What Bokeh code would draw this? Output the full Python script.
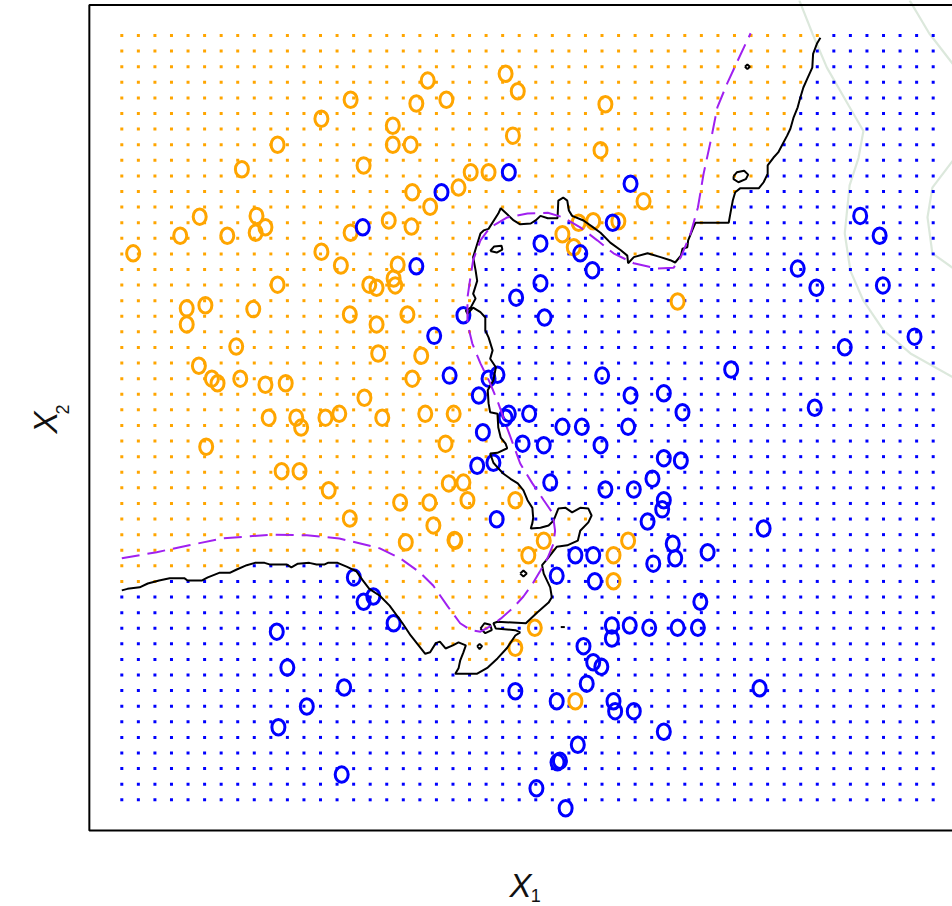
import numpy as np
from bokeh.plotting import figure
from bokeh.models import Range1d
from bokeh.embed import file_html
from bokeh.resources import INLINE
from bokeh.core.properties import value

# ---- training observations (class "orange" and class "blue") ----
orange_x1 = [3.77, 4.73, 4.88, 2.82, 3.63, 4.00, 5.96, 2.46, 3.34, 4.82,
             1.92, 3.34, 3.56, 5.90, 1.48, 2.98, 4.30, 4.52, 4.15, 3.58,
             3.80, 6.43, 0.96, 1.66, 0.72, 1.30, 1.65, 1.77, 2.82, 3.29,
             3.57, 0.14, 2.46, 2.70, 5.43, 5.57, 5.63, 5.81, 6.12, 3.40,
             3.35, 1.92, 3.05, 3.14, 3.37, 0.80, 1.03, 1.62, 0.80, 2.81,
             3.14, 3.52, 1.41, 3.16, 3.69, 0.95, 1.11, 1.18, 1.46, 1.77,
             2.02, 3.58, 2.99, 1.81, 2.15, 2.21, 2.51, 2.68, 3.21, 3.74,
             4.09, 1.04, 3.99, 1.97, 2.19, 2.55, 2.81, 4.03, 4.21, 3.43,
             3.79, 4.26, 4.85, 3.84, 3.50, 4.11, 4.10, 5.20, 6.24, 5.01,
             6.06, 6.06, 5.09, 4.85, 5.59, 6.85]
orange_x2 = [9.41, 9.50, 9.27, 9.16, 9.11, 9.16, 9.10, 8.91, 8.82, 8.69,
             8.57, 8.57, 8.57, 8.50, 8.25, 8.30, 8.21, 8.21, 8.01, 7.95,
             7.76, 7.83, 7.63, 7.64, 7.38, 7.38, 7.42, 7.49, 7.42, 7.58,
             7.50, 7.15, 7.17, 6.99, 7.40, 7.23, 7.55, 7.57, 7.57, 7.00,
             6.82, 6.74, 6.74, 6.70, 6.73, 6.43, 6.47, 6.42, 6.22, 6.35,
             6.22, 6.35, 5.93, 5.84, 5.81, 5.68, 5.51, 5.45, 5.51, 5.43,
             5.45, 5.51, 5.26, 5.00, 5.00, 4.87, 5.00, 5.05, 5.00, 5.05,
             5.05, 4.62, 4.66, 4.30, 4.30, 4.05, 3.68, 4.14, 4.15, 3.89,
             3.89, 3.92, 3.92, 3.59, 3.37, 3.39, 3.40, 3.39, 3.39, 3.20,
             3.20, 2.86, 2.25, 1.99, 1.29, 6.52]

blue_x1 = [3.94, 4.77, 6.27, 2.97, 3.63, 5.16, 5.65, 6.05, 5.80, 5.16,
           4.86, 5.21, 4.21, 3.85, 8.33, 8.56, 9.38, 9.10, 9.34, 9.77,
           8.91, 7.51, 6.68, 6.91, 8.54, 5.92, 4.04, 4.52, 4.63, 4.40,
           6.27, 4.77, 4.73, 5.02, 5.43, 5.67, 6.24, 4.45, 4.94, 5.20,
           5.90, 4.38, 4.58, 6.68, 6.89, 5.28, 5.96, 6.31, 6.54, 6.68,
           6.66, 6.48, 4.62, 6.79, 7.91, 7.22, 5.59, 5.81, 6.55, 6.82,
           5.36, 5.83, 7.13, 2.86, 2.98, 3.10, 3.35, 1.91, 2.04, 2.74,
           2.28, 1.93, 2.71, 6.04, 6.26, 6.50, 6.85, 7.10, 6.04, 5.69,
           5.81, 5.91, 5.73, 4.85, 5.36, 6.06, 6.08, 6.31, 6.68, 7.86,
           5.62, 5.37, 5.40, 5.11, 5.47]
blue_x2 = [7.95, 8.21, 8.06, 7.49, 6.98, 7.28, 7.15, 7.55, 6.93, 6.76,
           6.57, 6.31, 6.34, 6.07, 6.95, 6.70, 6.73, 7.64, 7.38, 6.06,
           5.92, 5.63, 5.32, 5.07, 5.13, 5.55, 5.55, 5.51, 5.56, 5.29,
           5.29, 5.05, 5.00, 5.05, 4.88, 4.88, 4.88, 4.81, 4.66, 4.64,
           4.64, 4.37, 4.41, 4.47, 4.44, 4.15, 4.06, 4.06, 4.20, 3.92,
           3.80, 3.64, 3.67, 3.35, 3.55, 3.24, 3.20, 3.20, 3.09, 3.16,
           2.93, 2.86, 2.59, 2.91, 2.59, 2.66, 2.31, 2.20, 1.73, 1.47,
           1.22, 0.95, 0.33, 2.28, 2.28, 2.25, 2.25, 2.25, 2.11, 2.01,
           1.80, 1.74, 1.52, 1.42, 1.29, 1.29, 1.16, 1.16, 0.89, 1.46,
           0.72, 0.49, 0.51, 0.15, -0.11]

# ---- KNN decision boundary (black) ----
knn_x1 = [0.00, 0.07, 0.22, 0.32, 0.46, 0.59, 0.77, 0.81, 0.99, 1.06,
          1.20, 1.33, 1.41, 1.54, 1.64, 1.76, 1.82, 2.03, 2.09, 2.17,
          2.31, 2.40, 2.50, 2.54, 2.66, 2.77, 2.89, 2.97, 3.05, 3.18,
          3.30, 3.46, 3.56, 3.74, 3.80, 3.87, 3.92, 3.99, 4.08, 4.15,
          4.24, 4.21, 4.17, 4.15, 4.11, 4.38, 4.51, 4.63, 4.75, 4.85,
          4.91, 4.85, 4.61, 4.58, 4.63, 4.98, 5.12, 5.26, 5.30, 5.28,
          5.20, 5.18, 5.25, 5.31, 5.36, 5.49, 5.62, 5.65, 5.75, 5.79,
          5.75, 5.65, 5.55, 5.47, 5.38, 5.32, 5.26, 5.16, 5.04, 5.06,
          5.07, 5.06, 5.00, 4.95, 4.88, 4.79, 4.70, 4.63, 4.58, 4.54,
          4.63, 4.75, 4.73, 4.67, 4.64, 4.63, 4.54, 4.52, 4.51, 4.58,
          4.61, 4.54, 4.57, 4.52, 4.48, 4.48, 4.42, 4.33, 4.26, 4.24,
          4.30, 4.36, 4.33, 4.38, 4.36, 4.33, 4.42, 4.46, 4.52, 4.64,
          4.67, 4.73, 4.83, 4.91, 5.04, 5.10, 5.16, 5.25, 5.37, 5.38,
          5.44, 5.49, 5.51, 5.55, 5.69, 5.81, 5.90, 6.02, 6.15, 6.23,
          6.24, 6.31, 6.48, 6.64, 6.76, 6.82, 6.89, 6.91, 6.97, 6.98,
          7.03, 7.07, 7.48, 7.50, 7.53, 7.56, 7.62, 7.85, 7.91, 7.96,
          7.96, 8.03, 8.09, 8.15, 8.20, 8.24, 8.28, 8.33, 8.36, 8.40,
          8.45, 8.51, 8.52, 8.57, 8.61]
knn_x2 = [2.74, 2.76, 2.78, 2.83, 2.87, 2.90, 2.90, 2.87, 2.87, 2.91,
          2.97, 2.97, 3.01, 3.07, 3.10, 3.10, 3.08, 3.08, 3.04, 3.09,
          3.10, 3.08, 3.08, 3.10, 3.10, 3.05, 2.99, 2.87, 2.76, 2.67,
          2.54, 2.31, 2.15, 1.91, 1.93, 2.05, 2.07, 1.98, 2.02, 2.06,
          2.02, 1.93, 1.82, 1.72, 1.65, 1.65, 1.73, 1.85, 1.99, 2.15,
          2.19, 2.22, 2.24, 2.31, 2.33, 2.31, 2.45, 2.58, 2.65, 2.78,
          2.96, 3.07, 3.16, 3.24, 3.31, 3.33, 3.39, 3.52, 3.63, 3.72,
          3.81, 3.82, 3.76, 3.82, 3.81, 3.65, 3.59, 3.56, 3.55, 3.62,
          3.69, 3.82, 3.92, 4.05, 4.14, 4.20, 4.27, 4.35, 4.41, 4.53,
          4.54, 4.60, 4.66, 4.74, 4.87, 5.05, 5.07, 5.19, 5.36, 5.49,
          5.66, 5.77, 5.88, 6.05, 6.14, 6.31, 6.38, 6.44, 6.36, 6.40,
          6.44, 6.56, 6.62, 6.79, 6.93, 7.10, 7.41, 7.45, 7.47, 7.67,
          7.74, 7.68, 7.58, 7.53, 7.54, 7.58, 7.64, 7.61, 7.61, 7.84,
          7.88, 7.84, 7.71, 7.64, 7.58, 7.49, 7.42, 7.29, 7.19, 7.12,
          7.02, 7.10, 7.15, 7.10, 7.06, 7.03, 7.12, 7.21, 7.23, 7.32,
          7.45, 7.55, 7.55, 7.67, 7.84, 7.95, 8.00, 8.00, 8.08, 8.19,
          8.30, 8.40, 8.47, 8.59, 8.69, 8.78, 8.93, 9.06, 9.18, 9.32,
          9.44, 9.58, 9.76, 9.90, 9.97]

# small closed pieces of the KNN boundary
island_x1 = [[7.54, 7.58, 7.67, 7.72, 7.69, 7.60, 7.54, 7.54],
             [7.68, 7.71, 7.74, 7.71, 7.68],
             [4.54, 4.59, 4.68, 4.69, 4.62, 4.54],
             [4.91, 4.95, 4.99, 4.95, 4.91],
             [4.38, 4.41, 4.44, 4.41, 4.38],
             [4.42, 4.47, 4.54, 4.56, 4.48, 4.42],
             [5.41, 5.46]]
island_x2 = [[8.16, 8.21, 8.23, 8.18, 8.12, 8.08, 8.12, 8.16],
             [9.59, 9.62, 9.59, 9.56, 9.59],
             [7.18, 7.24, 7.25, 7.20, 7.16, 7.18],
             [2.96, 3.00, 2.96, 2.92, 2.96],
             [2.01, 2.04, 2.01, 1.97, 2.01],
             [2.24, 2.31, 2.29, 2.22, 2.18, 2.24],
             [2.26, 2.26]]

# ---- Bayes decision boundary (purple dashed) ----
bayes_x1 = [0.00, 0.43, 0.83, 1.24, 1.86, 2.28, 2.68, 3.18, 3.43, 3.68,
            3.84, 4.01, 4.17, 4.30, 4.42, 4.54, 4.67, 4.83, 4.95, 5.07,
            5.16, 5.25, 5.32, 5.34, 5.31, 5.20, 5.06, 4.91, 4.82, 4.73,
            4.64, 4.54, 4.42, 4.32, 4.26, 4.26, 4.29, 4.33, 4.42, 4.54,
            4.75, 5.00, 5.25, 5.44, 5.65, 5.86, 6.06, 6.31, 6.60, 6.80,
            6.89, 7.01, 7.10, 7.17, 7.26, 7.34, 7.46, 7.59, 7.75]
bayes_x2 = [3.16, 3.24, 3.33, 3.42, 3.47, 3.46, 3.42, 3.29, 3.16, 2.97,
            2.80, 2.54, 2.31, 2.22, 2.20, 2.27, 2.37, 2.52, 2.66, 2.84,
            3.00, 3.17, 3.35, 3.52, 3.75, 3.92, 4.14, 4.40, 4.66, 4.92,
            5.19, 5.45, 5.71, 5.97, 6.23, 6.57, 6.79, 7.06, 7.32, 7.49,
            7.62, 7.67, 7.68, 7.62, 7.49, 7.32, 7.15, 7.02, 6.95, 6.96,
            7.10, 7.41, 7.75, 8.19, 8.63, 9.06, 9.37, 9.67, 10.03]

# ---- faint contour curves at the top right ----
faint_x1 = [[8.35, 8.51, 8.69, 8.96, 9.14, 9.08, 8.97, 8.91, 8.98, 9.14, 9.39, 9.72, 10.24],
            [9.71, 9.95, 10.24],
            [10.24, 9.99, 9.93, 9.99, 10.24]]
faint_x2 = [[10.46, 10.03, 9.58, 9.08, 8.75, 8.40, 8.04, 7.41, 6.92, 6.53, 6.14, 5.84, 5.53],
            [10.46, 10.03, 9.63],
            [8.36, 8.01, 7.62, 7.15, 6.96]]

# evaluation grid (50 x 50) spanning the data region
grid_lo, grid_hi, grid_n = 0.0, 10.0, 50

x_label, x_sub = "X", "1"
y_label, y_sub = "X", "2"

ORANGE = "#FFA500"
BLUE = "#0000FF"
PURPLE = "#A020F0"


def inside(px, py, vx, vy):
    vx = np.asarray(vx); vy = np.asarray(vy)
    res = np.zeros(px.shape, dtype=bool)
    j = len(vx) - 1
    with np.errstate(divide="ignore", invalid="ignore"):
        for i in range(len(vx)):
            xi, yi, xj, yj = vx[i], vy[i], vx[j], vy[j]
            crosses = (yi > py) != (yj > py)
            xint = (xj - xi) * (py - yi) / (yj - yi) + xi
            res ^= crosses & (px < xint)
            j = i
    return res


g = np.linspace(grid_lo, grid_hi, grid_n)
GX, GY = np.meshgrid(g, g)
GX = GX.ravel(); GY = GY.ravel()
span = grid_hi - grid_lo
pad = 0.04 * span
lo, hi = grid_lo - pad, grid_hi + pad

# blue region: below/right of the KNN boundary
poly_x = [lo - 1] + knn_x1 + [knn_x1[-1] + 0.05, hi + 1, hi + 1, lo - 1]
poly_y = [knn_x2[0]] + knn_x2 + [hi + 1, hi + 1, lo - 1, lo - 1]
is_blue = inside(GX, GY, poly_x, poly_y)
dot_col = np.where(is_blue, BLUE, ORANGE)

p = figure(width=952, height=906,
           x_range=Range1d(-1.495, 10.238), y_range=Range1d(-1.396, 10.458),
           output_backend="svg", toolbar_location=None,
           x_axis_location=None, y_axis_location=None,
           min_border=0, outline_line_color=None,
           background_fill_color="white", border_fill_color="white")
p.grid.visible = False

# faint contours
for fx, fy in zip(faint_x1, faint_x2):
    p.line(fx, fy, line_color="#d8e6d8", line_width=2.2, line_alpha=0.9)

# grid of classified points
p.scatter(GX, GY, marker="square", size=3, fill_color=list(dot_col),
          line_color=None)

# observations
p.ellipse(orange_x1, orange_x2, width=13, height=15.5, width_units="screen",
          height_units="screen", fill_color=None, line_color=ORANGE, line_width=3)
p.ellipse(blue_x1, blue_x2, width=13, height=15.5, width_units="screen",
          height_units="screen", fill_color=None, line_color=BLUE, line_width=3)

# KNN boundary
p.line(knn_x1, knn_x2, line_color="black", line_width=2)
p.multi_line(island_x1, island_x2, line_color="black", line_width=2)

# Bayes boundary
p.line(bayes_x1, bayes_x2, line_color=PURPLE, line_width=2, line_dash="18 8")

# plot frame (right side is beyond the visible area)
p.line([hi, lo, lo, hi], [hi, hi, lo, lo], line_color="black", line_width=2)

# axis labels
p.text(x=[4.914], y=[-1.121], text=[x_label], text_font=value("Liberation Sans"),
       text_font_style="italic", text_font_size="33px", text_align="center",
       text_baseline="alphabetic", text_color="#111111")
p.text(x=[5.04], y=[-1.252], text=[x_sub], text_font=value("Liberation Sans"),
       text_font_size="18px", text_align="left", text_baseline="alphabetic",
       text_color="#111111")
p.text(x=[-0.940], y=[4.937], text=[y_label], text_font=value("Liberation Sans"),
       text_font_style="italic", text_font_size="33px", text_align="center",
       text_baseline="alphabetic", angle=np.pi / 2, text_color="#111111")
p.text(x=[-0.731], y=[5.04], text=[y_sub], text_font=value("Liberation Sans"),
       text_font_size="18px", text_align="left", text_baseline="alphabetic",
       angle=np.pi / 2, text_color="#111111")

open("out.html", "w").write(file_html(p, INLINE))
